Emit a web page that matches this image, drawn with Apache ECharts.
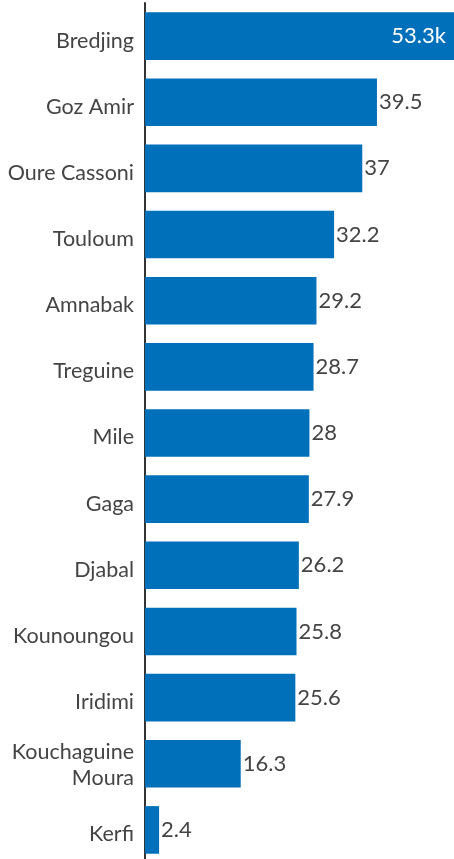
<!DOCTYPE html>
<html>
<head>
<meta charset="utf-8">
<script src="https://cdn.jsdelivr.net/npm/echarts@6/dist/echarts.min.js"></script>
<style>
  html, body { margin: 0; padding: 0; background: #fff; }
  #chart { width: 454px; height: 859px; }
</style>
</head>
<body>
<div id="chart"></div>
<script>
const categories = ['Bredjing', 'Goz Amir', 'Oure Cassoni', 'Touloum', 'Amnabak', 'Treguine', 'Mile', 'Gaga', 'Djabal', 'Kounoungou', 'Iridimi', 'Kouchaguine Moura', 'Kerfi'];
const values = [53.3, 39.5, 37, 32.2, 29.2, 28.7, 28, 27.9, 26.2, 25.8, 25.6, 16.3, 2.4];
const valueLabels = ['53.3k', '39.5', '37', '32.2', '29.2', '28.7', '28', '27.9', '26.2', '25.8', '25.6', '16.3', '2.4'];

const chart = echarts.init(document.getElementById('chart'));
const FONT = 'Lato, "Open Sans", sans-serif';

chart.setOption({
  animation: false,
  grid: { left: 145, right: -4, top: 3, height: 860, outerBoundsMode: 'none', containLabel: false },
  xAxis: { type: 'value', min: 0, max: 53.3, show: false },
  yAxis: {
    type: 'category',
    inverse: true,
    data: categories,
    axisLine: { show: true, lineStyle: { color: '#333', width: 2 } },
    axisTick: { show: false },
    axisLabel: {
      color: '#444', fontSize: 21.5, fontFamily: FONT, margin: 11, align: 'right',
      // long names wrap onto two lines; labels sit a little below the bar centre
      formatter: (name) => name.length > 14
        ? '{b|' + name.replace(' ', '}\n{b|') + '}'
        : '{a|' + name + '}',
      rich: {
        a: { fontSize: 21.5, fontFamily: FONT, color: '#444', padding: [9, 0, 0, 0] },
        b: { fontSize: 21.5, fontFamily: FONT, color: '#444', lineHeight: 26, padding: [3, 0, 0, 0] }
      }
    }
  },
  series: [{
    type: 'bar',
    barCategoryGap: '28%',
    itemStyle: { color: '#0070bb' },
    label: {
      show: true, position: 'right', distance: 2,
      color: '#444', fontSize: 22, fontFamily: FONT,
      formatter: (p) => valueLabels[p.dataIndex]
    },
    data: values.map((v, i) => i === 0
      ? { value: v, label: { position: 'insideRight', color: '#fff', distance: 12 } }
      : v)
  }]
});
</script>
</body>
</html>
